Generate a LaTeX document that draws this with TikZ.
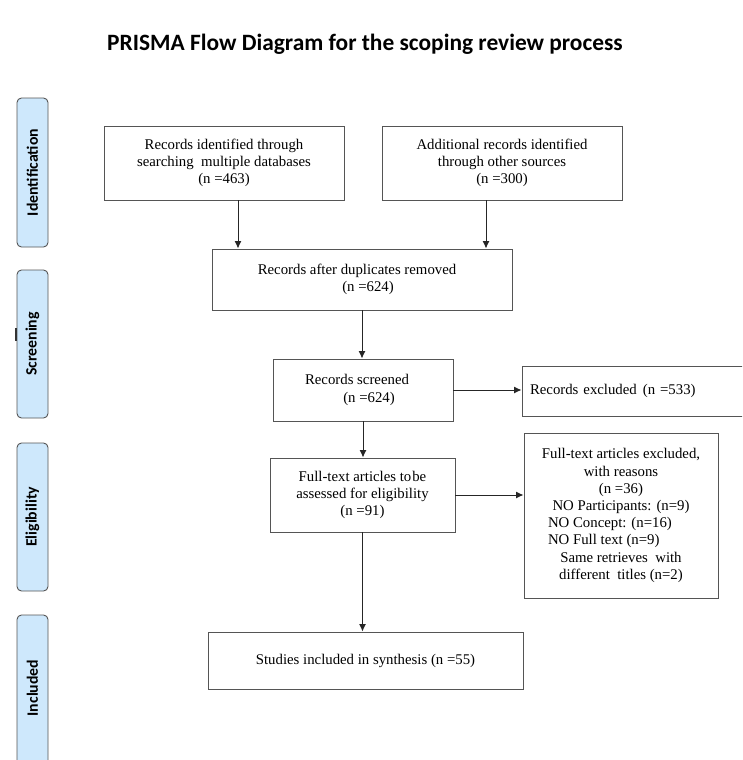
\documentclass[tikz,border=0pt]{standalone}
\usepackage{fontspec}
\setmainfont{Liberation Serif}
\newfontfamily\cali{Carlito}
\usetikzlibrary{arrows.meta}
\definecolor{phaseblue}{RGB}{206,232,252}
\definecolor{edgegray}{RGB}{85,85,85}
\tikzset{
  box/.style={draw=edgegray, line width=0.9pt, inner sep=0pt, align=center,
    font=\fontsize{14.8}{17.2}\selectfont},
  phase/.style={draw=edgegray, fill=phaseblue, rounded corners=4.5pt, line width=0.9pt,
    minimum width=31pt, inner sep=0pt},
  phasetext/.style={rotate=90, font=\cali\bfseries\fontsize{15.8}{18}\selectfont},
  arr/.style={-{Latex[length=7.5pt,width=7pt]}, line width=1pt, black!85},
}
\begin{document}
\begin{tikzpicture}[x=1pt,y=-1pt]
\useasboundingbox (0,0) rectangle (742,760);
\clip (0,0) rectangle (742,760);

% title
\node[font=\cali\bfseries\fontsize{23.4}{28}\selectfont] (title) at (365,44)
  {PRISMA Flow Diagram for the scoping review process};

% phase labels
\node[phase, minimum height=149pt] (ident) at (32.5,172.5) {};
\node[phasetext] (identt) at (ident.center) {Identification};
\node[phase, minimum height=148pt] (scr) at (32.5,344) {};
\node[phasetext] (scrt) at (scr.center) {Screening};
\node[phase, minimum height=148pt] (elig) at (32.5,517) {};
\node[phasetext] (eligt) at (elig.center) {Eligibility};
\node[phase, minimum height=160pt] (incl) at (32.5,695) {};
\node[phasetext] (inclt) at (32.5,688) {Included};
\draw[line width=1.6pt, black!80] (16,328) -- (16,341);

% boxes
\node[box, minimum width=240pt, minimum height=74pt] (b1) at (224,163)
  {Records identified through\\searching\ \ multiple databases\\(n =463)};
\node[box, minimum width=240pt, minimum height=74pt] (b2) at (502,163)
  {Additional records identified\\through other sources\\(n =300)};
\node[box, minimum width=300pt, minimum height=61pt] (b3) at (362,279.5)
  {Records after duplicates removed\kern10pt\\\kern12pt(n =624)};
\node[box, minimum width=180pt, minimum height=62pt] (b4) at (363,390)
  {Records screened\kern12pt\\\kern12pt(n =624)};
\node[box, minimum height=50pt, text width=224pt, inner xsep=8pt, align=left] (b5) at (642,391)
  {Records excluded\kern6pt(n =533)};
\node[box, minimum width=185pt, minimum height=74pt] (b6) at (362.5,495)
  {Full-text articles to\kern1pt be\\assessed for eligibility\\(n =91)};
\node[box, minimum width=194pt, minimum height=165pt] (b7) at (621,515.5)
  {Full-text articles excluded,\\with reasons\\(n =36)\\NO Participants: (n=9)\\
   \makebox[146pt][l]{NO Concept: (n=16)}\\\makebox[146pt][l]{NO Full text (n=9)}\\
   Same retrieves\ \ with\\different\ \ titles (n=2)};
\node[box, minimum width=315pt, minimum height=57pt] (b8) at (365.5,660.5)
  {Studies included in synthesis (n =55)};

% connectors
\draw[arr] ([xshift=14pt]b1.south) -- ([xshift=14pt]b1.south |- b3.north);
\draw[arr] ([xshift=-16pt]b2.south) -- ([xshift=-16pt]b2.south |- b3.north);
\draw[arr] (b3.south) -- (b3.south |- b4.north);
\draw[arr] (b4.east) -- (b4.east -| b5.west);
\draw[arr] (b4.south) -- (b4.south |- b6.north);
\draw[arr] (b6.east) -- (b6.east -| b7.west);
\draw[arr] (b6.south) -- (b6.south |- b8.north);
\end{tikzpicture}
\end{document}
